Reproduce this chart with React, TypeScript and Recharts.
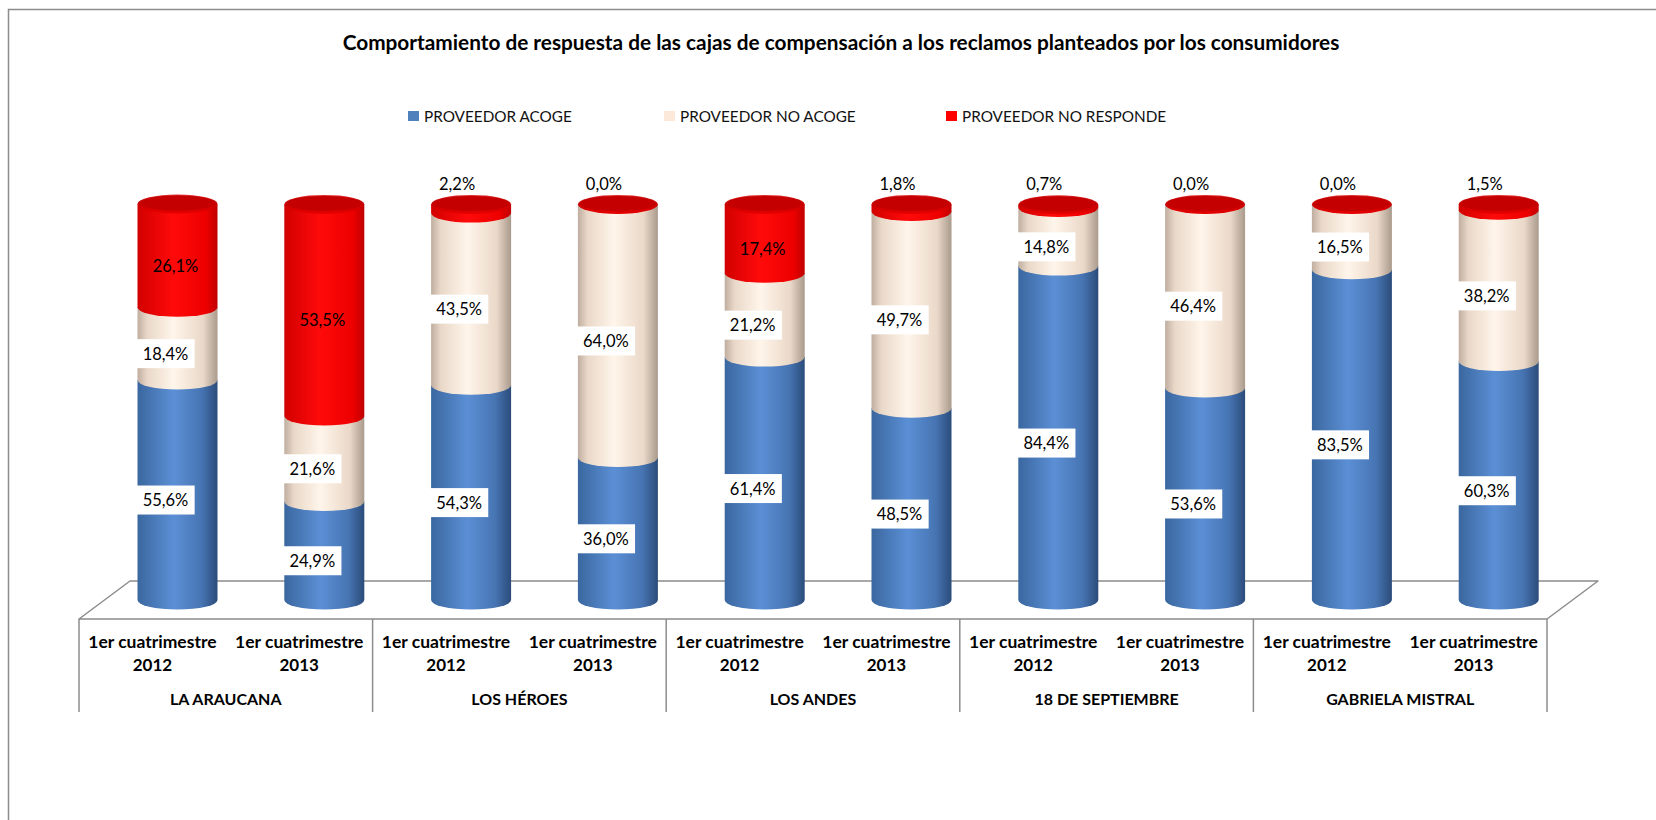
import React from "react";
import { Bar, BarChart, LabelList, XAxis, YAxis } from "recharts";

const GROUPS = ["LA ARAUCANA", "LOS HÉROES", "LOS ANDES", "18 DE SEPTIEMBRE", "GABRIELA MISTRAL"];
const PERIODS = ["1er cuatrimestre 2012", "1er cuatrimestre 2013"];

// one value per group/period, in order
const ACOGE = [55.6, 24.9, 54.3, 36.0, 61.4, 48.5, 84.4, 53.6, 83.5, 60.3];
const NO_ACOGE = [18.4, 21.6, 43.5, 64.0, 21.2, 49.7, 14.8, 46.4, 16.5, 38.2];
const NO_RESPONDE = [26.1, 53.5, 2.2, 0.0, 17.4, 1.8, 0.7, 0.0, 0.0, 1.5];

const TITLE = "Comportamiento de respuesta de las cajas de compensación a los reclamos planteados por los consumidores";

const SERIES = [
  { key: "acoge", name: "PROVEEDOR ACOGE", swatch: "#4f81bd", grad: "gradBlue" },
  { key: "noAcoge", name: "PROVEEDOR NO ACOGE", swatch: "#fde9d9", grad: "gradCream" },
  { key: "noResponde", name: "PROVEEDOR NO RESPONDE", swatch: "#ff0000", grad: "gradRed" },
];

const data = GROUPS.flatMap((group, gi) =>
  PERIODS.map((period, pi) => {
    const i = gi * PERIODS.length + pi;
    return {
      id: `${group} ${period}`,
      group,
      period,
      acoge: ACOGE[i],
      noAcoge: NO_ACOGE[i],
      noResponde: NO_RESPONDE[i],
    };
  })
);

const WIDTH = 1656;
const HEIGHT = 820;
const AXIS_H = 100;
const MARGIN = { top: 223, right: 109, bottom: 101, left: 79 };
const PLOT_LEFT = MARGIN.left;
const PLOT_RIGHT = WIDTH - MARGIN.right;
const PLOT_BOTTOM = HEIGHT - MARGIN.bottom - AXIS_H;
const BAND = (PLOT_RIGHT - PLOT_LEFT) / data.length;

// 3d floor depth; cylinders sit in the middle of it
const DEPTH_X = 51;
const DEPTH_Y = 38;
const DX = DEPTH_X / 2;
const DY = -DEPTH_Y / 2;
const RX = 40;
const RY = 9.5;

const FONT = "Lato, 'Open Sans', sans-serif";
const GRID = "#8c8c8c";
const LABEL_SIZE = 16.5;

const fmt = (v: number) => v.toFixed(1).replace(".", ",") + "%";

const textWidth = (s: string) =>
  s.split("").reduce((w, ch) => w + (ch === "," ? 4 : ch === "%" ? 13.5 : 9.6), 0);

function Cylinder(props: any, seriesIndex: number) {
  const { x, y, width, height } = props;
  if (x == null || y == null) return <g />;
  const h = Math.max(0, Number(height) || 0);
  const cx = x + width / 2 + DX;
  const left = cx - RX;
  const right = cx + RX;
  const top = y + DY;
  const bottom = y + h + DY;
  const isTop = seriesIndex === SERIES.length - 1;
  return (
    <g>
      {h > 0 && (
        <path
          d={`M${left},${top} L${left},${bottom} A${RX},${RY} 0 0 0 ${right},${bottom} L${right},${top} Z`}
          fill={`url(#${SERIES[seriesIndex].grad})`}
        />
      )}
      {isTop && (
        <g>
          <ellipse cx={cx} cy={top} rx={RX} ry={RY} fill="url(#gradCap)" />
          <ellipse cx={cx} cy={top - 1} rx={RX - 2} ry={RY - 2} fill="#c40000" />
        </g>
      )}
    </g>
  );
}

function makeLabel(seriesIndex: number) {
  return (props: any) => {
    const vb = props.viewBox ?? {};
    const x = Number(props.x ?? vb.x);
    const y = Number(props.y ?? vb.y);
    const w = Number(props.width ?? vb.width);
    const h = Math.abs(Number(props.height ?? vb.height) || 0);
    const value = Number(props.value);
    if (!isFinite(x) || !isFinite(y) || !isFinite(value)) return null;
    const label = fmt(value);
    const cx = x + w / 2 + DX - 12;
    const isRed = seriesIndex === SERIES.length - 1;
    if (isRed && value < 5) {
      return (
        <text x={cx - 2} y={y + DY - RY - 5} textAnchor="middle" fontFamily={FONT} fontSize={LABEL_SIZE} fill="#000">
          {label}
        </text>
      );
    }
    const cy = y + h / 2 + DY + 10;
    const bw = textWidth(label) + 12;
    return (
      <g>
        {!isRed && <rect x={cx - bw / 2} y={cy - 14.5} width={bw} height={29} fill="#fff" />}
        <text x={isRed ? cx + 10 : cx} y={cy} textAnchor="middle" dominantBaseline="central" fontFamily={FONT} fontSize={LABEL_SIZE} fill="#000">
          {label}
        </text>
      </g>
    );
  };
}

function CategoryTick(props: any) {
  const { x, payload } = props;
  const i = payload?.index ?? props.index ?? 0;
  const row = data[i];
  if (!row) return <g />;
  const cut = row.period.lastIndexOf(" ");
  const line1 = row.period.slice(0, cut);
  const line2 = row.period.slice(cut + 1);
  const firstOfGroup = i % PERIODS.length === 0;
  const last = i === data.length - 1;
  const textProps = { textAnchor: "middle" as const, fontFamily: FONT, fontWeight: 700, fill: "#000" };
  return (
    <g>
      <text x={x} y={PLOT_BOTTOM + 29} fontSize={17.5} {...textProps}>{line1}</text>
      <text x={x} y={PLOT_BOTTOM + 52} fontSize={17} {...textProps}>{line2}</text>
      {firstOfGroup && (
        <g>
          <line x1={x - BAND / 2} x2={x - BAND / 2} y1={PLOT_BOTTOM} y2={PLOT_BOTTOM + 93} stroke={GRID} strokeWidth={1.5} />
          <text x={x + BAND / 2} y={PLOT_BOTTOM + 86} fontSize={16} {...textProps}>{row.group}</text>
        </g>
      )}
      {last && (
        <line x1={x + BAND / 2} x2={x + BAND / 2} y1={PLOT_BOTTOM} y2={PLOT_BOTTOM + 93} stroke={GRID} strokeWidth={1.5} />
      )}
    </g>
  );
}

function Backdrop() {
  const LEGEND_X = [408, 664, 946];
  const floor = [
    [PLOT_LEFT, PLOT_BOTTOM],
    [PLOT_RIGHT, PLOT_BOTTOM],
    [PLOT_RIGHT + DEPTH_X, PLOT_BOTTOM - DEPTH_Y],
    [PLOT_LEFT + DEPTH_X, PLOT_BOTTOM - DEPTH_Y],
  ]
    .map((p) => p.join(","))
    .join(" ");
  return (
    <svg width={WIDTH} height={HEIGHT} style={{ position: "absolute", left: 0, top: 0 }}>
      <rect x={8.5} y={9.5} width={WIDTH + 20} height={HEIGHT + 20} fill="#fff" stroke={GRID} strokeWidth={1.5} />
      <text x={841} y={41} textAnchor="middle" dominantBaseline="central" fontFamily={FONT} fontSize={20.8} fontWeight={700} fill="#000">
        {TITLE}
      </text>
      {SERIES.map((s, i) => (
        <g key={s.key}>
          <rect x={LEGEND_X[i]} y={111} width={11} height={10} fill={s.swatch} />
          <text x={LEGEND_X[i] + 16} y={116} dominantBaseline="central" fontFamily={FONT} fontSize={15.3} fill="#111">
            {s.name}
          </text>
        </g>
      ))}
      <polygon points={floor} fill="#fff" stroke={GRID} strokeWidth={1.5} strokeLinejoin="round" />
    </svg>
  );
}

export default function App() {
  return (
    <div style={{ position: "absolute", left: 0, top: 0, width: WIDTH, height: HEIGHT, overflow: "hidden", background: "#fff" }}>
      <Backdrop />
      <div style={{ position: "absolute", left: 0, top: 0 }}>
        <BarChart width={WIDTH} height={HEIGHT} data={data} margin={MARGIN} barSize={2 * RX}>
          <defs>
            <linearGradient id="gradBlue" x1="0" y1="0" x2="1" y2="0">
              <stop offset="0%" stopColor="#3a679f" />
              <stop offset="45%" stopColor="#5b8fd5" />
              <stop offset="80%" stopColor="#4775b3" />
              <stop offset="100%" stopColor="#2b4c7a" />
            </linearGradient>
            <linearGradient id="gradCream" x1="0" y1="0" x2="1" y2="0">
              <stop offset="0%" stopColor="#bfae9f" />
              <stop offset="12%" stopColor="#e9d8c8" />
              <stop offset="45%" stopColor="#fff5ea" />
              <stop offset="82%" stopColor="#ead8c8" />
              <stop offset="100%" stopColor="#a99a8c" />
            </linearGradient>
            <linearGradient id="gradRed" x1="0" y1="0" x2="1" y2="0">
              <stop offset="0%" stopColor="#d20000" />
              <stop offset="45%" stopColor="#ff0a0a" />
              <stop offset="85%" stopColor="#ee0000" />
              <stop offset="100%" stopColor="#c00000" />
            </linearGradient>
            <linearGradient id="gradCap" x1="0" y1="0" x2="0" y2="1">
              <stop offset="0%" stopColor="#e03030" />
              <stop offset="50%" stopColor="#c80000" />
              <stop offset="100%" stopColor="#e60000" />
            </linearGradient>
          </defs>
          <XAxis
            dataKey="id"
            interval={0}
            height={AXIS_H}
            axisLine={false}
            tickLine={false}
            tick={<CategoryTick />}
          />
          <YAxis hide type="number" scale="linear" domain={[0, 100]} />
          {SERIES.map((s, i) => (
            <Bar
              key={s.key}
              dataKey={s.key}
              name={s.name}
              stackId="total"
              fill={s.swatch}
              isAnimationActive={false}
              shape={(p: any) => Cylinder(p, i)}
            >
              <LabelList dataKey={s.key} content={makeLabel(i)} />
            </Bar>
          ))}
        </BarChart>
      </div>
    </div>
  );
}
